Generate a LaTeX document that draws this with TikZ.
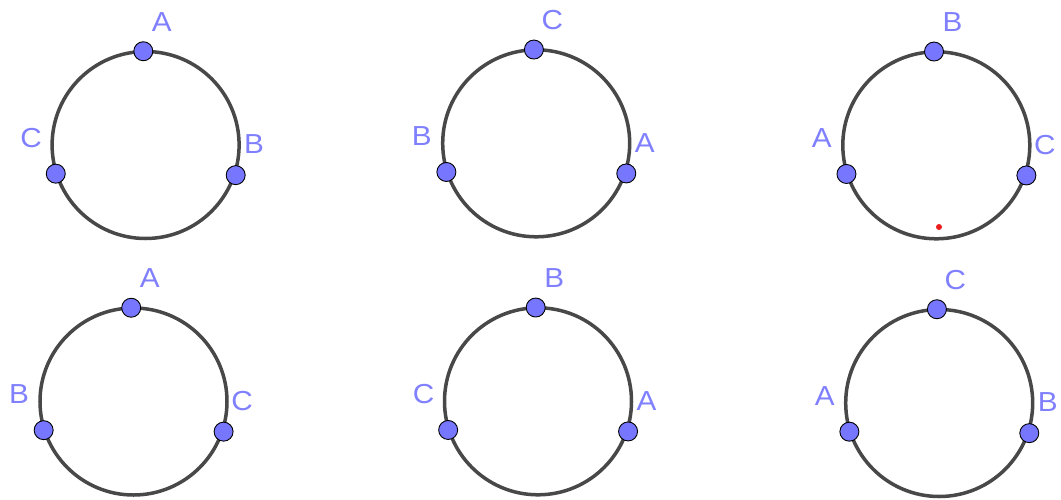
\documentclass[tikz,border=0pt]{standalone}
\usepackage{fontspec}
\setmainfont{Liberation Sans}
\definecolor{ptblue}{RGB}{118,118,255}
\definecolor{lblblue}{RGB}{128,128,255}
\definecolor{ringgray}{RGB}{72,72,72}
\definecolor{reddot}{RGB}{235,30,30}
\newcommand{\ringset}[6]{%
  \begin{scope}[shift={(#2,#3)}]
    \coordinate (#1c) at (0,0);
    \draw[ring] (#1c) circle[radius=93.5pt];
    \node[ptdot] (#1t) at (91.4:93.8pt) {};
    \node[ptdot] (#1l) at (197.7:94.3pt) {};
    \node[ptdot] (#1r) at (-18.5:95pt) {};
    \node[lbl] (#1tl) at (16.2,-123) {#4};
    \node[lbl] (#1ll) at (-114.5,-7) {#5};
    \node[lbl] (#1rl) at (108.5,-0.5) {#6};
  \end{scope}}
\begin{document}
\begin{tikzpicture}[x=1pt,y=-1pt,
  ring/.style={draw=ringgray,line width=3.5pt},
  ptdot/.style={circle,fill=ptblue,draw=black,line width=0.9pt,minimum size=19pt,inner sep=0pt},
  lbl/.style={text=lblblue,font=\fontsize{27.5}{32}\selectfont,inner sep=0pt,xscale=1.08}]
  \useasboundingbox (0,0) rectangle (1061,499);
  \fill[white] (0,0) rectangle (1061,499);
  \ringset{a}{145.6}{145}{A}{C}{B}
  \ringset{b}{536.2}{143.3}{C}{B}{A}
  \ringset{e}{936.3}{145.3}{B}{A}{C}
  \ringset{d}{133.5}{401.5}{A}{B}{C}
  \ringset{f}{538}{401.3}{B}{C}{A}
  \ringset{g}{939.2}{403}{C}{A}{B}
  \node[circle,fill=reddot,minimum size=6pt,inner sep=0pt] (rd) at ([shift={(2.7,81.7)}]ec) {};
\end{tikzpicture}
\end{document}
